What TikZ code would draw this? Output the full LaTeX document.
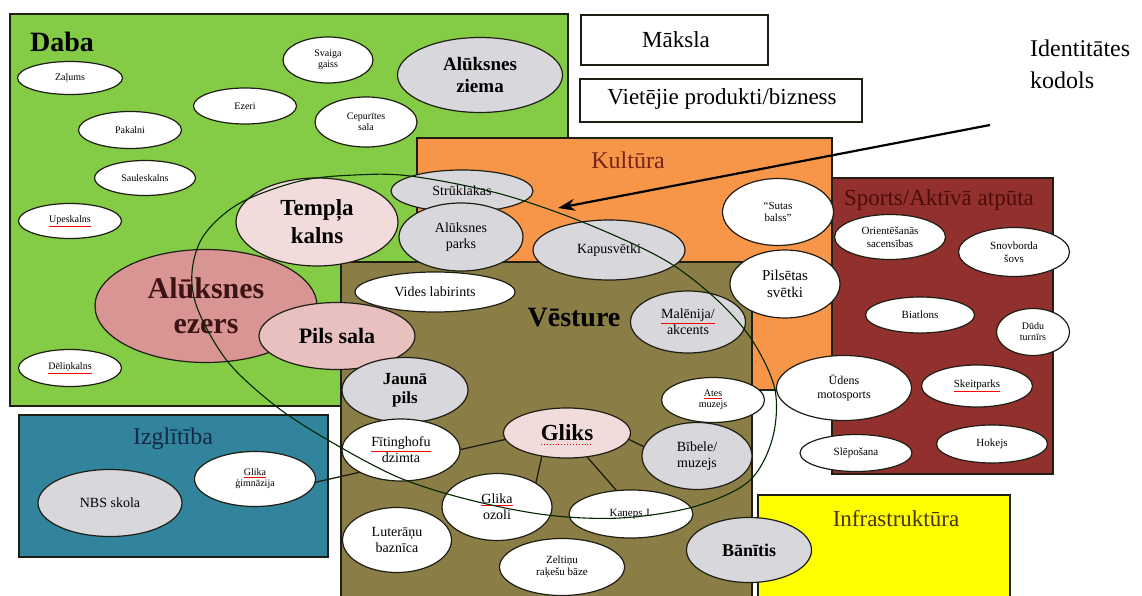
\documentclass[tikz,border=0pt]{standalone}
\usepackage{fontspec}
\setmainfont{Liberation Serif}
\usetikzlibrary{shapes.geometric,arrows.meta}

\definecolor{dabagreen}{RGB}{133,204,70}
\definecolor{kultorange}{RGB}{247,150,72}
\definecolor{sportred}{RGB}{146,48,46}
\definecolor{vestolive}{RGB}{138,125,70}
\definecolor{izglblue}{RGB}{49,132,155}
\definecolor{infrayellow}{RGB}{255,255,0}
\definecolor{greyfill}{RGB}{216,216,220}
\definecolor{palepink}{RGB}{242,220,219}
\definecolor{pilspink}{RGB}{232,192,191}
\definecolor{ezerspink}{RGB}{217,149,148}
\definecolor{edge}{RGB}{30,30,20}
\definecolor{kulttext}{RGB}{120,35,25}
\definecolor{sporttext}{RGB}{75,12,12}
\definecolor{izgltext}{RGB}{18,40,70}
\definecolor{infratext}{RGB}{70,55,0}
\definecolor{ezerstext}{RGB}{60,20,20}

% font size shorthand
\newcommand\fsz[2]{\fontsize{#1}{#2}\selectfont}
% word marked by the spell checker
\newcommand\spl[1]{\textcolor{red}{\underline{\textcolor{black}{#1}}}}

\tikzset{
  area/.style={draw=edge, line width=1.2pt},
  label/.style={inner sep=0pt, align=center},
  sz/.style 2 args={minimum width=#1pt, minimum height=#2pt},
  ell/.style={ellipse, draw=edge, line width=1.2pt, inner sep=0pt, align=center, text=black},
  wh/.style={ell, fill=white},
  gr/.style={ell, fill=greyfill},
  pk/.style={ell, fill=palepink},
  tiny/.style={font=\fsz{10}{11}},
  small/.style={font=\fsz{11}{12.5}},
  mid/.style={font=\fsz{14}{16}},
  link/.style={draw=edge, line width=1.3pt},
}

\begin{document}
\begin{tikzpicture}[x=1pt, y=-1pt]
\fill[white] (0,0) rectangle (1142,596);
\useasboundingbox (0,0) rectangle (1142,596);

% theme areas
\filldraw[area, fill=dabagreen] (10,14) rectangle (568,406);
\filldraw[area, fill=kultorange] (417,138) rectangle (832,390);
\filldraw[area, fill=sportred] (832,178) rectangle (1053,474);
\filldraw[area, fill=vestolive] (341,262) rectangle (752,620);
\filldraw[area, fill=izglblue] (19,415) rectangle (328,557);
\filldraw[area, fill=infrayellow] (758,495) rectangle (1010,620);
\draw[area, fill=white] (581,15) rectangle (768,65);
\draw[area, fill=white] (580,79) rectangle (862,122);

% area titles
\node[label, font=\bfseries\fsz{28}{30}] (tdaba) at (62,42) {Daba};
\node[label, font=\fsz{24}{26}, text=kulttext] (tkult) at (628,160) {Kultūra};
\node[label, font=\fsz{23}{25}, text=sporttext] (tsport) at (939,200) {Sports/Aktīvā atpūta};
\node[label, font=\bfseries\fsz{28}{30}] (tvest) at (574,318) {Vēsture};
\node[label, font=\fsz{24}{26}, text=izgltext] (tizgl) at (173,439) {Izglītība};
\node[label, font=\fsz{23}{25}, text=infratext] (tinfra) at (896,519) {Infrastruktūra};
\node[label, font=\fsz{23}{25}] (tmaksla) at (676,40) {Māksla};
\node[label, font=\fsz{23}{25}] (tvietejie) at (722,99) {Vietējie produkti/bizness};
\node[label, anchor=west, align=left, font=\fsz{24}{32}] (tid) at (1030,64) {Identitātes\\kodols};

% Gliks and the items linked to it
\node[pk, sz={127}{50}, font=\bfseries\fsz{23}{25}] (gliks) at (567,433) {Gliks};
\draw[red, line width=0.9pt, dotted] ([xshift=-26pt, yshift=-11pt]gliks.center) -- ([xshift=26pt, yshift=-11pt]gliks.center);
\node[wh, sz={121}{55}, tiny] (gimn) at (255,479) {\spl{Glika}\\ģimnāzija};
\node[wh, sz={110}{67}, mid] (ozoli) at (497,507) {\spl{Glika}\\ozoli};
\node[wh, sz={124}{48}, small] (kaneps) at (631,514) {Kaņeps J.};
\node[gr, sz={110}{67}, mid] (bibele) at (697,456) {Bībele/\\muzejs};
\draw[link] (gliks.186) -- (gimn.357);
\draw[link] (gliks.223) -- (ozoli.32);
\draw[link] (gliks.310) -- (kaneps.122);
\draw[link] (gliks.354) -- (bibele.170);

% Daba
\node[wh, sz={105}{33}, tiny] (zalums) at (70,78) {Zaļums};
\node[wh, sz={90}{46}, tiny] (svaiga) at (328,60) {Svaiga\\gaiss};
\node[wh, sz={103}{36}, tiny] (ezeri) at (245,106) {Ezeri};
\node[wh, sz={103}{37}, tiny] (pakalni) at (130,130) {Pakalni};
\node[wh, sz={102}{50}, tiny] (cepurites) at (366,122) {Cepurītes\\sala};
\node[wh, sz={101}{35}, tiny] (saules) at (145,178) {Sauleskalns};
\node[wh, sz={103}{35}, tiny] (upes) at (70,221) {\spl{Upeskalns}};
\node[wh, sz={103}{37}, tiny] (delin) at (70,368) {\spl{Dēliņkalns}};
\node[gr, sz={165}{75}, font=\bfseries\fsz{19}{22}] (ziema) at (480,75) {Alūksnes\\ziema};
\node[ell, fill=ezerspink, sz={222}{113}, font=\bfseries\fsz{30}{35}, text=ezerstext] (ezers) at (206,306) {Alūksnes\\ezers};
\node[pk, sz={162}{88}, font=\bfseries\fsz{23}{28}] (templa) at (317,222) {Tempļa\\kalns};

% Kultura and Vesture
\node[gr, sz={142}{42}, mid] (struk) at (462,191) {Strūklakas};
\node[gr, sz={124}{68}, mid] (parks) at (461,237) {Alūksnes\\parks};
\node[gr, sz={152}{60}, mid] (kapus) at (609,250) {Kapusvētki};
\node[wh, sz={160}{40}, mid] (vides) at (435,292) {Vides labirints};
\node[ell, fill=pilspink, sz={156}{67}, font=\bfseries\fsz{22}{24}] (pils) at (337,336) {Pils sala};
\node[gr, sz={115}{62}, mid] (malen) at (688,322) {\spl{Malēnija/}\\akcents};
\node[wh, sz={111}{67}, small] (sutas) at (778,212) {“Sutas\\balss”};
\node[wh, sz={110}{68}, font=\fsz{15}{17}] (svetki) at (785,284) {Pilsētas\\svētki};
\node[wh, sz={135}{65}, font=\fsz{12}{14}] (udens) at (844,388) {Ūdens\\motosports};
\node[gr, sz={126}{65}, font=\bfseries\fsz{17}{19}] (jauna) at (405,390) {Jaunā\\pils};
\node[wh, sz={118}{62}, mid] (fiting) at (401,450) {\spl{Fītinghofu}\\dzimta};
\node[wh, sz={103}{45}, tiny] (ates) at (713,400) {\spl{Ates}\\muzejs};
\node[wh, sz={109}{65}, mid] (luter) at (397,540) {Luterāņu\\baznīca};
\node[wh, sz={125}{57}, small] (zeltinu) at (562,567) {Zeltiņu\\raķešu bāze};
\node[gr, sz={125}{65}, font=\bfseries\fsz{18}{20}] (banitis) at (749,550) {Bānītis};

% Sports
\node[wh, sz={111}{45}, small] (orient) at (890,237) {Orientēšanās\\sacensības};
\node[wh, sz={111}{49}, small] (snov) at (1014,252) {Snovborda\\šovs};
\node[wh, sz={109}{36}, small] (biat) at (920,315) {Biatlons};
\node[wh, sz={73}{47}, tiny] (dudu) at (1033,332) {Dūdu\\turnīrs};
\node[wh, sz={111}{42}, small] (skeit) at (977,386) {\spl{Skeitparks}};
\node[wh, sz={112}{37}, small] (slep) at (856,453) {Slēpošana};
\node[wh, sz={111}{38}, small] (hokejs) at (992,444) {Hokejs};

% Izglitiba
\node[gr, sz={144}{67}, mid] (nbs) at (110,503) {NBS skola};

% identity core outline
\draw[draw=black!85!green, line width=1.1pt] plot[smooth cycle, tension=0.55] coordinates {
  (410,176) (497,193) (580,221) (663,259) (715,298) (752,340) (775,390)
  (772,440) (748,482) (693,507) (620,518) (547,515) (470,500) (400,478)
  (333,443) (277,407) (228,362) (198,310) (192,272) (204,235) (240,203)
  (300,181) (355,175)};

% pointer to the identity core
\coordinate (idfrom) at (990,125);
\coordinate (idtip) at (558,208);
\draw[-{Stealth[length=17pt, width=12pt]}, line width=2.2pt] (idfrom) -- (idtip);
\end{tikzpicture}
\end{document}
